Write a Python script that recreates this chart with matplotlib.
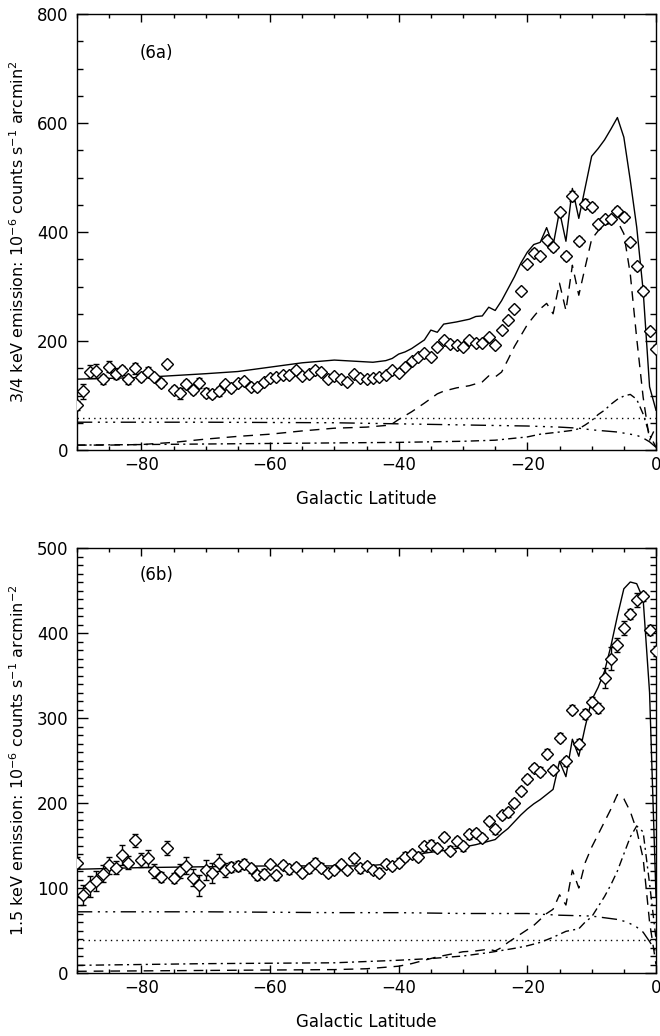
import matplotlib
matplotlib.use("Agg")
import matplotlib.pyplot as plt
import numpy as np
from matplotlib.ticker import MultipleLocator

# observed profiles: one point per degree of galactic latitude
lat = np.arange(-90, 1)

soft_rate = [82, 108, 144, 145, 130, 153, 140, 146, 130, 150,
             134, 144, 134, 123, 157, 111, 104, 121, 111, 123,
             105, 103, 108, 121, 113, 123, 127, 116, 115, 125,
             133, 134, 137, 138, 147, 135, 140, 147, 143, 130,
             135, 131, 125, 140, 133, 131, 133, 134, 138, 146,
             141, 152, 163, 171, 178, 171, 189, 201, 195, 193,
             189, 201, 197, 197, 207, 193, 221, 239, 259, 291,
             341, 362, 356, 386, 372, 436, 356, 466, 383, 452,
             446, 414, 423, 423, 439, 428, 381, 337, 292, 218,
             186]
soft_err = [8, 14, 12, 12, 8, 10, 10, 8, 8, 10,
            8, 8, 6, 8, 7, 6, 10, 8, 8, 10,
            8, 8, 8, 6, 6, 6, 6, 6, 6, 6,
            5, 5, 5, 5, 5, 5, 5, 5, 5, 5,
            5, 5, 5, 5, 5, 5, 5, 5, 5, 5,
            5, 5, 5, 5, 5, 5, 5, 5, 5, 5,
            5, 5, 5, 5, 5, 5, 5, 5, 5, 5,
            6, 6, 6, 6, 6, 7, 7, 10, 7, 8,
            8, 7, 7, 7, 7, 7, 7, 7, 7, 6,
            6]

hard_rate = [130, 92, 102, 108, 117, 127, 124, 139, 130, 156,
             133, 135, 120, 113, 147, 112, 120, 126, 112, 103,
             121, 118, 130, 121, 125, 126, 128, 123, 115, 117,
             128, 115, 127, 122, 125, 118, 123, 130, 124, 118,
             121, 128, 121, 135, 123, 126, 121, 118, 128, 126,
             130, 137, 140, 137, 149, 151, 147, 160, 144, 155,
             149, 163, 165, 159, 179, 169, 186, 189, 200, 214,
             228, 241, 237, 258, 239, 277, 249, 310, 269, 305,
             319, 312, 347, 370, 386, 406, 422, 439, 443, 404,
             379]
hard_err = [6, 12, 12, 12, 10, 10, 8, 12, 8, 8,
            8, 10, 8, 6, 8, 6, 8, 10, 10, 12,
            12, 12, 10, 8, 6, 6, 6, 5, 5, 5,
            5, 5, 5, 5, 5, 5, 5, 5, 5, 5,
            5, 5, 5, 5, 5, 5, 5, 5, 5, 5,
            5, 5, 5, 5, 5, 5, 5, 5, 5, 5,
            5, 5, 5, 5, 5, 5, 5, 5, 5, 5,
            5, 5, 5, 5, 5, 5, 5, 5, 6, 6,
            6, 6, 12, 14, 8, 8, 6, 8, 5, 6,
            6]

# model components, 3/4 keV band
soft_total_lat = [-90, -80, -70, -65, -60, -55, -50, -47, -44, -42,
                  -41, -40, -39, -38, -37, -36, -35, -34, -33, -31,
                  -29, -28, -27, -26, -25, -24, -23, -22, -21, -20,
                  -19, -18, -17, -16, -15, -14, -13, -12, -10, -9,
                  -8, -7, -6, -5, -4, -3, -2, -1, 0]
soft_total = [130, 133, 140, 144, 152, 160, 165, 163, 161, 164,
              168, 176, 180, 186, 194, 202, 220, 216, 231, 235,
              240, 245, 246, 262, 256, 274, 296, 318, 343, 363,
              377, 381, 408, 375, 438, 383, 480, 425, 539, 553,
              569, 589, 610, 574, 495, 409, 293, 116, 73]

soft_halo_lat = [-90, -85, -80, -75, -70, -65, -60, -55, -50, -45,
                 -42, -41, -40, -38, -36, -34, -33, -31, -29, -27,
                 -26, -25, -24, -23, -22, -21, -20, -19, -18, -17,
                 -16, -15, -14, -13, -12, -11, -10, -9, -8, -7,
                 -6, -5, -4, -3, -2, -1, 0]
soft_halo = [9, 9, 10, 14, 20, 25, 29, 35, 40, 42,
             45, 48, 56, 70, 86, 103, 108, 114, 118, 125,
             136, 134, 143, 166, 190, 210, 230, 245, 259, 269,
             250, 306, 256, 339, 284, 336, 387, 402, 412, 417,
             420, 397, 323, 205, 97, 18, 43]

soft_disk_lat = [-90, -80, -70, -60, -50, -40, -35, -30, -25, -20,
                 -18, -15, -13, -12, -11, -10, -9, -8, -7, -6,
                 -5, -4, -3, -2, -1, 0]
soft_disk = [9, 10, 11, 12, 13, 14, 15, 16, 18, 24,
             29, 33, 36, 39, 46, 54, 65, 73, 84, 93,
             99, 102, 93, 66, 28, 5]

soft_ext_lat = [-90, -70, -50, -40, -30, -20, -15, -12, -10, -8,
                -6, -5, -4, -3, -2, -1, 0]
soft_ext = [51, 51, 50, 48, 46, 44, 42, 40, 37, 35,
            33, 31, 29, 27, 22, 15, 5]

soft_bg = 58

# model components, 1.5 keV band
hard_total_lat = [-90, -80, -70, -60, -50, -45, -42, -40, -38, -36,
                  -34, -32, -30, -28, -26, -25, -24, -23, -22, -21,
                  -20, -19, -18, -17, -16, -15, -14, -13, -12, -11,
                  -10, -9, -8, -7, -6, -5, -4, -3, -2, -1, 0]
hard_total = [122, 124, 125, 126, 126, 126, 128, 131, 136, 141,
              143, 145, 148, 151, 155, 157, 164, 170, 178, 186,
              193, 199, 204, 210, 216, 249, 231, 275, 255, 290,
              321, 336, 355, 385, 420, 452, 460, 458, 440, 330, 90]

hard_halo_lat = [-90, -70, -50, -45, -40, -38, -36, -34, -32, -30,
                 -28, -26, -25, -24, -23, -22, -21, -20, -19, -18,
                 -17, -16, -15, -14, -13, -12, -11, -10, -9, -8,
                 -7, -6, -5, -4, -3, -2, -1, 0]
hard_halo = [2, 3, 4, 5, 8, 11, 15, 19, 22, 25,
             26, 28, 26, 30, 36, 41, 46, 51, 56, 63,
             70, 75, 92, 80, 121, 100, 130, 148, 163, 178,
             193, 210, 205, 190, 168, 135, 60, 10]

hard_disk_lat = [-90, -70, -50, -40, -35, -30, -26, -22, -20, -18,
                 -16, -14, -12, -11, -10, -9, -8, -7, -6, -5,
                 -4, -3, -2, -1, 0]
hard_disk = [9, 11, 12, 15, 17, 20, 24, 29, 32, 36,
             42, 49, 52, 60, 66, 78, 90, 104, 120, 140,
             160, 173, 166, 105, 40]

hard_ext_lat = [-90, -70, -50, -40, -30, -20, -15, -10, -8, -6,
                -5, -4, -3, -2, -1, 0]
hard_ext = [72, 72, 71, 71, 70, 70, 68, 67, 65, 63,
            61, 58, 54, 48, 37, 25]

hard_bg = 39

DASHED = (7, 5)
DASH_DOT = (6, 3, 1.5, 3)
DASH_3DOT = (11, 4, 1.5, 4, 1.5, 4, 1.5, 4)
DOTTED = (1, 3)


def draw_panel(ax, rate, err, total, halo, disk, ext, bg, ymax, ymajor, yminor, tag, tag_y, ylabel):
    """Plot one energy band: data with error bars plus the model components."""
    ax.errorbar(lat, rate, yerr=err, fmt='D', ms=5.8, mfc='white', mec='black',
                mew=1.0, ecolor='black', elinewidth=1.0, capsize=2.5, capthick=1.0,
                zorder=3)
    ax.plot(total[0], total[1], color='black', lw=1.0)
    ax.plot(halo[0], halo[1], color='black', lw=1.0, dashes=DASHED)
    ax.plot(disk[0], disk[1], color='black', lw=1.0, dashes=DASH_DOT)
    ax.plot(ext[0], ext[1], color='black', lw=1.0, dashes=DASH_3DOT)
    ax.plot([-90, 0], [bg, bg], color='black', lw=1.0, dashes=DOTTED)

    ax.set_xlim(-90, 0)
    ax.set_ylim(0, ymax)
    ax.xaxis.set_major_locator(MultipleLocator(20))
    ax.xaxis.set_minor_locator(MultipleLocator(5))
    ax.yaxis.set_major_locator(MultipleLocator(ymajor))
    ax.yaxis.set_minor_locator(MultipleLocator(yminor))
    ax.tick_params(which='both', direction='in', top=True, right=True,
                   width=1.0, labelsize=12)
    ax.tick_params(axis='x', which='major', length=6, pad=4)
    ax.tick_params(axis='x', which='minor', length=3)
    ax.tick_params(axis='y', which='major', length=8, pad=6)
    ax.tick_params(axis='y', which='minor', length=4)
    for side in ax.spines.values():
        side.set_linewidth(1.0)

    ax.set_xlabel('Galactic Latitude', fontsize=12, labelpad=12)
    ax.set_ylabel(ylabel, fontsize=11.5, labelpad=7)
    ax.text(0.109, tag_y, tag, transform=ax.transAxes,
            fontsize=12, va='center', ha='left')


fig = plt.figure(figsize=(6.6, 10.36), dpi=100)
ax_a = fig.add_axes([77 / 660, 1 - 450 / 1036, 579 / 660, 436 / 1036])
ax_b = fig.add_axes([77 / 660, 1 - 973 / 1036, 579 / 660, 425 / 1036])

draw_panel(ax_a, soft_rate, soft_err,
           (soft_total_lat, soft_total), (soft_halo_lat, soft_halo),
           (soft_disk_lat, soft_disk), (soft_ext_lat, soft_ext), soft_bg,
           800, 200, 50, '(6a)', 0.91,
           r'3/4 keV emission: 10$^{-6}$ counts s$^{-1}$ arcmin$^{2}$')
draw_panel(ax_b, hard_rate, hard_err,
           (hard_total_lat, hard_total), (hard_halo_lat, hard_halo),
           (hard_disk_lat, hard_disk), (hard_ext_lat, hard_ext), hard_bg,
           500, 100, 10, '(6b)', 0.937,
           r'1.5 keV emission: 10$^{-6}$ counts s$^{-1}$ arcmin$^{-2}$')

fig.savefig('out.png', dpi=100)
